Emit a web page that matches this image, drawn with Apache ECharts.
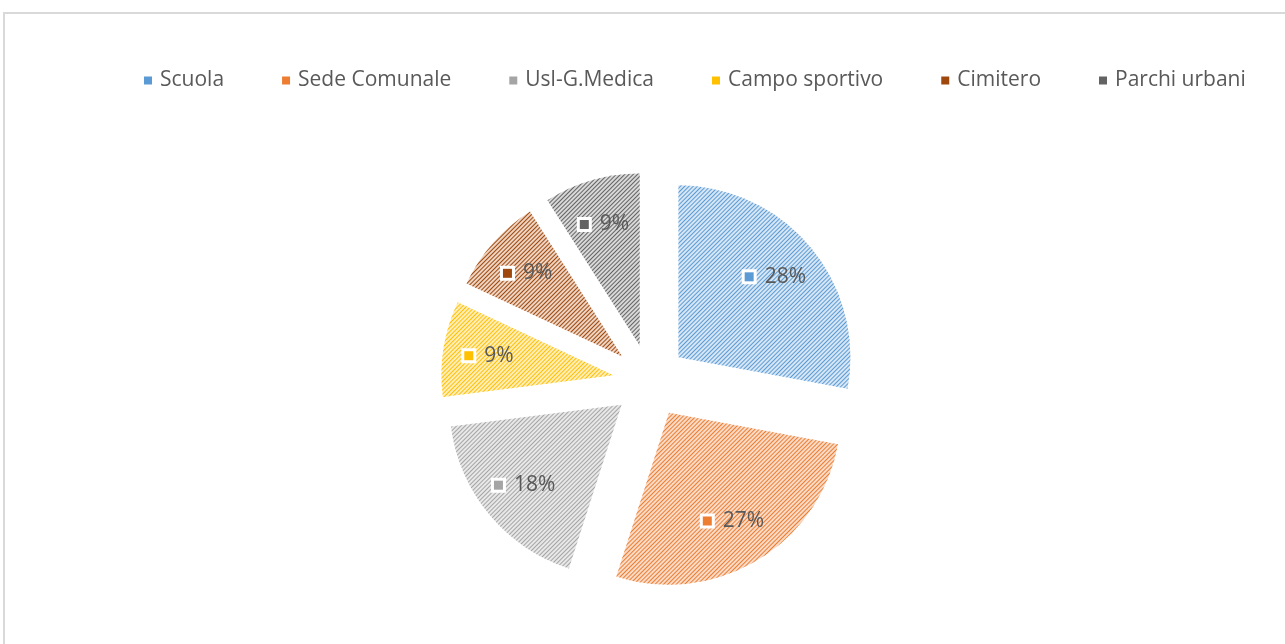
<!DOCTYPE html>
<html>
<head>
<meta charset="utf-8">
<script src="https://cdn.jsdelivr.net/npm/echarts@6/dist/echarts.min.js"></script>
<style>
  html, body { margin: 0; padding: 0; background: #fff; }
  #chart { width: 1285px; height: 644px; }
</style>
</head>
<body>
<div id="chart"></div>
<script>
var categories = ['Scuola', 'Sede Comunale', 'Usl-G.Medica', 'Campo sportivo', 'Cimitero', 'Parchi urbani'];
var values = [31, 30, 20, 10, 10, 10];
var mainColors = ['#5B9BD5', '#ED7D31', '#A5A5A5', '#FFC000', '#9E480E', '#636363'];
var lightColors = ['#D6E6F5', '#FADBC7', '#E8E8E8', '#FFEEBA', '#EED4C2', '#D8D8D8'];

var chartDom = document.getElementById('chart');
var myChart = echarts.init(chartDom);

var center = [650, 381];
var radius = 172;
var fontFamily = '"Open Sans", "Noto Sans", sans-serif';

// slices with hatch decal
var sliceData = categories.map(function (name, i) {
  return {
    name: name,
    value: values[i],
    selected: true,
    itemStyle: {
      color: lightColors[i],
      decal: {
        symbol: 'rect',
        symbolSize: 1,
        dashArrayX: [1, 0],
        dashArrayY: [1, 2],
        rotation: -Math.PI / 4,
        color: mainColors[i]
      }
    }
  };
});

// transparent ring only used to place the labels
var labelData = categories.map(function (name, i) {
  return {
    name: name,
    value: values[i],
    itemStyle: { color: 'rgba(0,0,0,0)' },
    label: {
      rich: {
        m: {
          width: 9,
          height: 9,
          backgroundColor: mainColors[i],
          borderColor: '#fff',
          borderWidth: 3
        },
        t: {
          fontSize: 21,
          color: '#595959',
          fontFamily: fontFamily,
          padding: [0, 0, 0, 11]
        }
      }
    }
  };
});

var option = {
  animation: false,
  graphic: [
    {
      type: 'rect',
      shape: { x: 4, y: 13, width: 1400, height: 700 },
      style: { fill: 'none', stroke: '#d9d9d9', lineWidth: 2 },
      silent: true
    }
  ],
  legend: {
    left: 139,
    top: 65,
    itemWidth: 8,
    itemHeight: 8,
    itemGap: 58,
    icon: 'rect',
    selectedMode: false,
    textStyle: {
      fontSize: 21,
      color: '#595959',
      fontFamily: fontFamily,
      padding: [0, 0, 0, 3]
    },
    data: categories.map(function (name, i) {
      return { name: name, itemStyle: { color: mainColors[i], decal: 'none' } };
    })
  },
  series: [
    {
      name: 'slices',
      type: 'pie',
      center: center,
      radius: [0, radius],
      startAngle: 90,
      clockwise: true,
      selectedMode: 'multiple',
      selectedOffset: 37,
      silent: true,
      label: { show: false },
      labelLine: { show: false },
      emphasis: { disabled: true },
      data: sliceData
    },
    {
      name: 'labels',
      type: 'pie',
      center: center,
      radius: [148, radius],
      startAngle: 90,
      clockwise: true,
      silent: true,
      percentPrecision: 0,
      labelLine: { show: false },
      emphasis: { disabled: true },
      label: {
        show: true,
        position: 'inside',
        formatter: function (p) {
          return '{m|}{t|' + p.percent + '%}';
        }
      },
      data: labelData
    }
  ]
};

option && myChart.setOption(option);
</script>
</body>
</html>
